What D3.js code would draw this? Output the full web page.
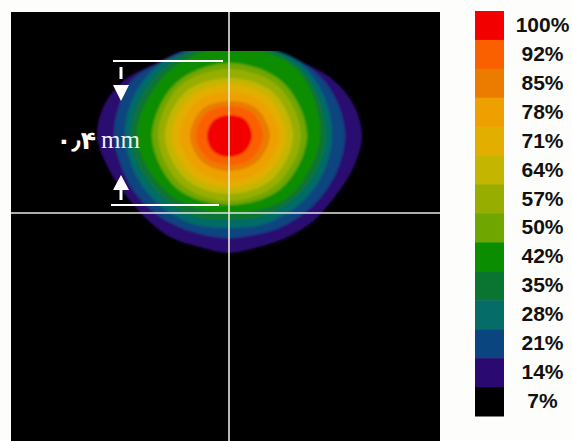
<!DOCTYPE html>
<html><head><meta charset="utf-8">
<script src="https://cdn.jsdelivr.net/npm/d3@7/dist/d3.min.js"></script>
<style>html,body{margin:0;padding:0;background:#fdfdfc}svg{display:block}</style>
</head><body><svg id="c" width="572" height="441"></svg>
<script>
const legendLabels = ["100%","92%","85%","78%","71%","64%","57%","50%","42%","35%","28%","21%","14%","7%"];
const legendColors = ["#f20000","#fb6000","#ec7c00","#eea000","#e2ae00","#c4b600","#97ae00","#6fa600","#0a8e00","#0a7530","#066c68","#0a4580","#2a0a70","#000000"];
// Contour radii (grid units) around the peak, clockwise from north, evenly spaced.
const r100 = [21,23,23,22,21,22,22,22];
const r92  = [30,33,34,32,29,31,33,32];
const r85  = [35,39,41,38,35,37,39,38];
const r78  = [44,47,50,47,45,46,49,47];
const r71  = [52,55,57,54,52,54,57,55];
const r64  = [58,62,64,61,58,61,64,62];
const r57  = [67,70,72,68,65,68,71,70];
const r50  = [73,76,78,74,69,74,77,75];
const r42  = [90,95,91,85,77,83,92,88];
const r35  = [92,94,98,97,97,94,90,87,84,87,90,94,98,96,94,92];
const r28  = [93,96,102,103,103,101,98,95,92,95,98,101,104,103,100,94];
const r21  = [90,92,98,104,110,114,116,114,111,108,105,102,102,102,104,107,110,112,115,114,112,102,95,91];
const r14  = [90,92,98,104,117,128,133,128,122,120,117,115,117,115,117,117,119,125,132,128,117,103,98,92];
const contourLevels = [r14,r21,r28,r35,r42,r50,r57,r64,r71,r78,r85,r92,r100];
const contourColors = legendColors.slice(0,13).reverse();
const peakPos = [218,124], crossPos = [218,201], clipTop = 39, plotExtent = [0,429];
const spanLines = [{x0:102,x1:212,y:49},{x0:100,x1:208,y:193}];
const arrowPos = 110, arrowTop = {stem:[55,67],head:[73,89]}, arrowBottom = {stem:[188,178],head:[178,163]};

const svg = d3.select("#c");
const x = d3.scaleLinear().domain(plotExtent).range([11,440]);
const y = d3.scaleLinear().domain(plotExtent).range([12,441]);
const r = d3.scaleLinear().domain([0,429]).range([0,429]);
const band = d3.scaleBand().domain(legendLabels).range([11,416]);

svg.append("rect").attr("x",x(0)).attr("y",y(0)).attr("width",x(429)-x(0)).attr("height",y(429)-y(0)).attr("fill","#000");
const defs = svg.append("defs");
defs.append("clipPath").attr("id","top").append("rect").attr("x",x(0)).attr("y",y(clipTop)).attr("width",429).attr("height",y(429)-y(clipTop));
defs.append("filter").attr("id","soft").attr("x","-5%").attr("y","-5%").attr("width","110%").attr("height","110%")
  .append("feGaussianBlur").attr("stdDeviation",0.8);

const g = svg.append("g").attr("clip-path","url(#top)").append("g").attr("filter","url(#soft)")
  .attr("transform",`translate(${x(peakPos[0])},${y(peakPos[1])})`);
g.selectAll("path").data(contourLevels).join("path")
  .attr("d",d=>d3.lineRadial().angle((_,i)=>i*2*Math.PI/d.length).radius(v=>r(v)).curve(d3.curveCatmullRomClosed.alpha(0.5))(d))
  .attr("fill",(_,i)=>contourColors[i]);

// cross hair
svg.append("line").attr("x1",x(crossPos[0])).attr("x2",x(crossPos[0])).attr("y1",y(0)).attr("y2",y(429)).attr("stroke","#e8ecd8").attr("stroke-width",1.6);
svg.append("line").attr("x1",x(0)).attr("x2",x(429)).attr("y1",y(crossPos[1])).attr("y2",y(crossPos[1])).attr("stroke","#e4e4e4").attr("stroke-width",1.6);

// span markers
svg.selectAll(".span").data(spanLines).join("line").attr("class","span")
  .attr("x1",d=>x(d.x0)).attr("x2",d=>x(d.x1)).attr("y1",d=>y(d.y)).attr("y2",d=>y(d.y)).attr("stroke","#fff").attr("stroke-width",2);
[arrowTop,arrowBottom].forEach(a=>{
  svg.append("line").attr("x1",x(arrowPos)).attr("x2",x(arrowPos)).attr("y1",y(a.stem[0])).attr("y2",y(a.stem[1])).attr("stroke","#fff").attr("stroke-width",3);
  svg.append("path").attr("fill","#fff").attr("d",d3.line()([[x(arrowPos)-8,y(a.head[0])],[x(arrowPos)+8,y(a.head[0])],[x(arrowPos),y(a.head[1])]]));
});
svg.append("text").attr("x",96).attr("y",149).attr("text-anchor","end").attr("direction","ltr").attr("unicode-bidi","bidi-override")
  .attr("font-family","DejaVu Sans").attr("font-weight","bold").attr("font-size",25).attr("fill","#fff").text("۰٫۴");
svg.append("text").attr("x",101).attr("y",148).attr("font-family","Liberation Serif").attr("font-size",25).attr("fill","#f0f0f0").text("mm");

// legend
svg.selectAll(".lg").data(legendLabels).join("rect").attr("class","lg")
  .attr("x",475).attr("width",29).attr("y",d=>band(d)).attr("height",band.bandwidth()+0.5).attr("fill",(_,i)=>legendColors[i]);
svg.selectAll(".lt").data(legendLabels).join("text").attr("class","lt")
  .attr("x",542.5).attr("y",d=>band(d)+band.bandwidth()/2+6.5).attr("text-anchor","middle")
  .attr("font-family","Liberation Sans").attr("font-weight","bold").attr("font-size",21)
  .attr("fill","#111").text(d=>d);
</script></body></html>
